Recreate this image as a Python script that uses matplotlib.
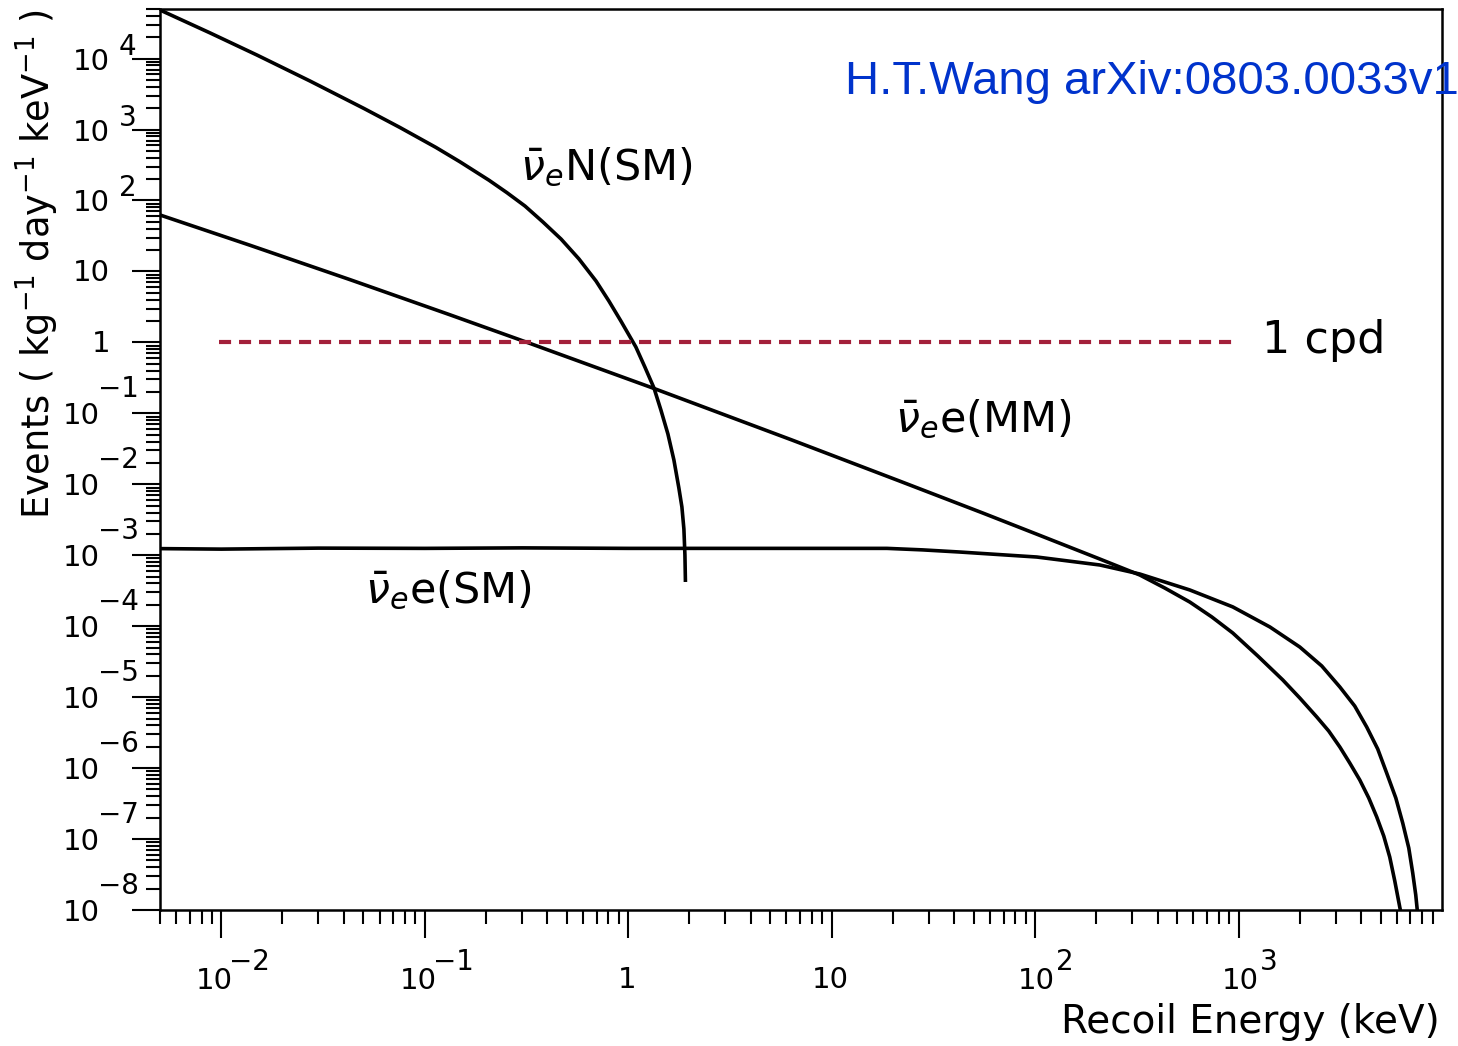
import matplotlib
matplotlib.use("Agg")
import matplotlib.pyplot as plt
from matplotlib.transforms import offset_copy

# recoil energy (keV) and event rate (kg^-1 day^-1 keV^-1)
energy_nucleus = [5.0e-3, 8.81e-3, 0.0150, 0.0273, 0.0503, 0.0755, 0.1135, 0.149, 0.207,
                  0.2535, 0.311, 0.381, 0.468, 0.573, 0.695, 0.804, 0.921, 1.091, 1.208,
                  1.339, 1.449, 1.568, 1.678, 1.775, 1.837, 1.879, 1.901, 1.912]
rate_nucleus = [4.84e4, 2.30e4, 1.12e4, 4.83e3, 1.98e3, 1.07e3, 560, 351, 193,
                129, 83.6, 49.8, 28.6, 15.0, 7.33, 3.83, 2.00, 0.861, 0.450,
                0.228, 0.111, 0.0512, 0.0220, 8.87e-3, 4.79e-3, 2.34e-3, 1.01e-3, 4.20e-4]

energy_mm = [5.0e-3, 0.01384, 0.0429, 0.133, 0.325, 1.352, 6.38, 21.6, 55.3, 102, 208,
             327, 434, 576, 739, 937, 1244, 1649, 2000, 2425, 2775, 3148, 3521, 3945,
             4366, 4777, 5174, 5535, 5861, 6200, 6310]
rate_mm = [62.5, 23.4, 7.67, 2.45, 0.98, 0.222, 0.0421, 0.0111, 3.94e-3, 1.98e-3, 8.85e-4,
           5.27e-4, 3.45e-4, 2.19e-4, 1.35e-4, 8.02e-5, 3.80e-5, 1.75e-5, 9.73e-6, 5.25e-6,
           3.33e-6, 1.98e-6, 1.18e-6, 6.79e-7, 3.79e-7, 2.05e-7, 1.10e-7, 5.58e-8, 2.56e-8,
           1.10e-8, 8.6e-9]

energy_sm = [5.0e-3, 0.01, 0.03, 0.1, 0.3, 1.0, 3.0, 10.0, 18.7, 28.0, 42.7, 102, 208, 327,
             576, 937, 1426, 2000, 2565, 3148, 3724, 4266, 4831, 5346, 5929, 6412,
             6866, 7180, 7430, 7600]
rate_sm = [1.24e-3, 1.22e-3, 1.26e-3, 1.25e-3, 1.27e-3, 1.25e-3, 1.25e-3, 1.25e-3,
           1.25e-3, 1.19e-3, 1.11e-3, 9.44e-4, 7.29e-4, 5.44e-4, 3.24e-4, 1.87e-4, 9.75e-5,
           5.09e-5, 2.75e-5, 1.39e-5, 7.50e-6, 3.79e-6, 1.86e-6, 8.53e-7, 3.79e-7,
           1.68e-7, 7.48e-8, 3.32e-8, 1.63e-8, 8.5e-9]

cpd_energy = [0.0098, 1000]
cpd_rate = [1.0, 1.0]

x_powers = [-2, -1, 0, 1, 2, 3]
y_powers = [4, 3, 2, 1, 0, -1, -2, -3, -4, -5, -6, -7, -8]

plt.rcParams["font.family"] = "DejaVu Sans"
plt.rcParams["mathtext.fontset"] = "dejavusans"

fig = plt.figure(figsize=(14.58, 10.46), dpi=100)
ax = fig.add_axes([160 / 1458, 1 - 910 / 1046, 1282 / 1458, 901 / 1046])

ax.plot(energy_nucleus, rate_nucleus, color="black", lw=2.6, solid_capstyle="butt")
ax.plot(energy_mm, rate_mm, color="black", lw=2.6)
ax.plot(energy_sm, rate_sm, color="black", lw=2.6)
ax.plot(cpd_energy, cpd_rate, color="#a3203a", lw=3.0, linestyle=(0, (2.9, 1.9)))

ax.set_xscale("log")
ax.set_yscale("log")
ax.set_xlim(5e-3, 1e4)
ax.set_ylim(1e-8, 5e4)
for s in ax.spines.values():
    s.set_linewidth(1.8)

ax.set_xticks([10.0 ** p for p in x_powers])
ax.set_yticks([10.0 ** p for p in y_powers])
ax.tick_params(which="major", direction="out", length=20, width=1.5,
               labelbottom=False, labelleft=False)
ax.tick_params(which="minor", direction="out", length=10, width=1.5,
               labelbottom=False, labelleft=False)
ax.xaxis.set_minor_locator(matplotlib.ticker.LogLocator(base=10, subs=range(2, 10), numticks=50))
ax.yaxis.set_minor_locator(matplotlib.ticker.LogLocator(base=10, subs=range(2, 10), numticks=50))
ax.xaxis.set_minor_formatter(matplotlib.ticker.NullFormatter())
ax.yaxis.set_minor_formatter(matplotlib.ticker.NullFormatter())

tick_fs = 21


def exp_str(p):
    return str(p).replace("-", "\u2212")


# y tick labels, PAW style
for p in y_powers:
    v = 10.0 ** p
    if p in (0, 1):
        txt = "1" if p == 0 else "10"
        tr = offset_copy(ax.get_yaxis_transform(), fig=fig, x=-50, y=-2, units="dots")
        ax.text(0, v, txt, transform=tr, ha="right", va="center", fontsize=tick_fs)
        continue
    neg = p < 0
    tr = offset_copy(ax.get_yaxis_transform(), fig=fig, x=-60 if neg else -50, y=-3, units="dots")
    ax.text(0, v, "10", transform=tr, ha="right", va="center", fontsize=tick_fs)
    tr = offset_copy(ax.get_yaxis_transform(), fig=fig, x=-62 if neg else -41,
                     y=24 if neg else 12, units="dots")
    ax.text(0, v, exp_str(p), transform=tr, ha="left", va="center", fontsize=tick_fs * 0.95)

# x tick labels
for p in x_powers:
    v = 10.0 ** p
    if p in (0, 1):
        txt = "1" if p == 0 else "10"
        tr = offset_copy(ax.get_xaxis_transform(), fig=fig, x=-1, y=-70, units="dots")
        ax.text(v, 0, txt, transform=tr, ha="center", va="center", fontsize=tick_fs)
        continue
    neg = p < 0
    tr = offset_copy(ax.get_xaxis_transform(), fig=fig, x=12 if neg else 20, y=-71, units="dots")
    ax.text(v, 0, "10", transform=tr, ha="right", va="center", fontsize=tick_fs)
    tr = offset_copy(ax.get_xaxis_transform(), fig=fig, x=8 if neg else 21, y=-52, units="dots")
    ax.text(v, 0, exp_str(p), transform=tr, ha="left", va="center", fontsize=tick_fs * 0.95)

# curve labels
lab_fs = 31
ax.text(0.281, 0.8246, r"$\bar{\nu}_{e}$N(SM)", transform=ax.transAxes,
        ha="left", va="center", fontsize=lab_fs)
ax.text(0.573, 0.544, r"$\bar{\nu}_{e}$e(MM)", transform=ax.transAxes,
        ha="left", va="center", fontsize=lab_fs)
ax.text(0.160, 0.355, r"$\bar{\nu}_{e}$e(SM)", transform=ax.transAxes,
        ha="left", va="center", fontsize=lab_fs)
ax.text(0.8596, 0.6326, "1 cpd", transform=ax.transAxes,
        ha="left", va="center", fontsize=32)

fig.text(37 / 1458, 1 - 264 / 1046, r"Events ( kg$^{-1}$ day$^{-1}$ keV$^{-1}$ )",
         rotation=90, ha="center", va="center", fontsize=26.5)
fig.text(1440 / 1458, 1 - 1022 / 1046, "Recoil Energy (keV)",
         ha="right", va="center", fontsize=28)
fig.text(845 / 1458, 1 - 82 / 1046, "H.T.Wang arXiv:0803.0033v1", color="#0033cc",
         ha="left", va="center", fontsize=34, family="Liberation Sans")

fig.savefig("out.png", dpi=100)
